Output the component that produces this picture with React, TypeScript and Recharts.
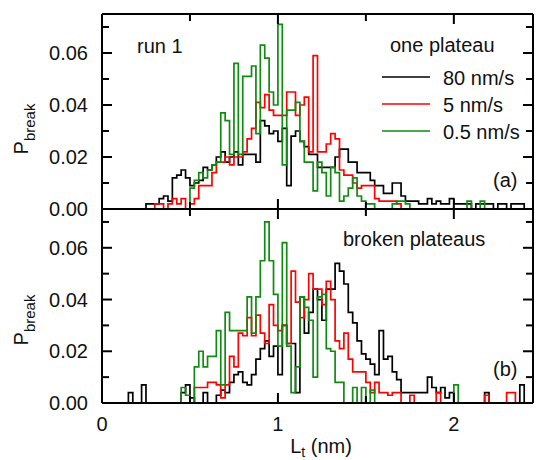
import React from 'react';
import { LineChart, Line, XAxis, YAxis } from 'recharts';

// Histogram bins: left edges start at 0.10 nm, width 0.025 nm (94 bins up to 2.45 nm)
const BIN_START = 0.1;
const BIN_WIDTH = 0.025;

// Panel (a) "one plateau"
const top80 = [
  0, 0, 0, 0, 0, 0, 0.002, 0.002, 0.002, 0.004,
  0.005, 0.003, 0.012, 0.013, 0.015, 0.012, 0.009, 0.010, 0.011, 0.016,
  0.015, 0.017, 0.020, 0.022, 0.018, 0.020, 0.022, 0.017, 0.021, 0.021,
  0.021, 0.018, 0.034, 0.032, 0.029, 0.030, 0.026, 0.031, 0.009, 0.028,
  0.030, 0.026, 0.024, 0.021, 0.021, 0.016, 0.016, 0.016, 0.016, 0.020,
  0.023, 0.023, 0.018, 0.018, 0.014, 0.014, 0.014, 0.011, 0.009, 0.009,
  0.006, 0.006, 0.010, 0.010, 0.005, 0.003, 0.003, 0.003, 0.002, 0.002,
  0.004, 0.002, 0.003, 0.002, 0.002, 0.004, 0.002, 0.002, 0.002, 0.002,
  0.000, 0.002, 0.002, 0.002, 0.002, 0.000, 0.002, 0.002, 0.000, 0.002,
  0.002, 0.002, 0.000, 0.000,
];
const top5 = [
  0, 0, 0, 0, 0, 0, 0, 0, 0.002, 0.002,
  0, 0.002, 0.004, 0.002, 0.004, 0, 0.002, 0.004, 0.009, 0.009,
  0.009, 0.014, 0.018, 0.018, 0.020, 0.017, 0.020, 0.020, 0.022, 0.027,
  0.031, 0.041, 0.039, 0.044, 0.038, 0.036, 0.036, 0.036, 0.045, 0.045,
  0.036, 0.040, 0.043, 0.022, 0.059, 0.022, 0.022, 0.025, 0.029, 0.027,
  0.015, 0.013, 0.013, 0.010, 0.008, 0.009, 0.009, 0.009, 0.004, 0.003,
  0.003, 0.003, 0.003, 0.002, 0, 0, 0, 0, 0, 0,
  0, 0, 0, 0, 0, 0, 0, 0, 0, 0,
  0, 0, 0, 0, 0, 0, 0, 0, 0, 0,
  0, 0, 0, 0,
];
const top05 = [
  0, 0, 0, 0, 0, 0, 0, 0, 0, 0,
  0, 0, 0, 0, 0, 0, 0.008, 0.011, 0.014, 0.012,
  0.015, 0.017, 0.018, 0.037, 0.034, 0.021, 0.056, 0.021, 0.051, 0.051,
  0.055, 0.029, 0.063, 0.058, 0.045, 0.040, 0.071, 0.017, 0.038, 0.038,
  0.041, 0.026, 0.018, 0.018, 0.007, 0.018, 0.014, 0.005, 0.016, 0.014,
  0.003, 0.005, 0.008, 0.012, 0.005, 0.003, 0.002, 0.002, 0, 0,
  0, 0, 0.002, 0.003, 0.003, 0.002, 0, 0, 0, 0,
  0, 0, 0, 0, 0, 0, 0, 0, 0, 0.003,
  0, 0, 0.003, 0, 0, 0, 0, 0, 0, 0,
  0, 0, 0, 0,
];

// Panel (b) "broken plateaus"
const bot80 = [
  0, 0, 0.004, 0, 0, 0.007, 0, 0, 0, 0,
  0, 0, 0, 0, 0.004, 0.007, 0.002, 0, 0, 0.004,
  0, 0, 0.003, 0.005, 0.004, 0.008, 0.011, 0.012, 0.008, 0.007,
  0.011, 0.017, 0.021, 0.024, 0.018, 0.022, 0.011, 0.030, 0.023, 0.023,
  0.004, 0.041, 0.027, 0.035, 0.044, 0.040, 0.032, 0.044, 0.044, 0.054,
  0.051, 0.046, 0.035, 0.031, 0.024, 0.019, 0.017, 0.015, 0.011, 0.028,
  0.017, 0.018, 0.012, 0.009, 0.004, 0.004, 0.004, 0.004, 0.004, 0.004,
  0.010, 0.006, 0.004, 0.006, 0.002, 0.004, 0, 0, 0, 0,
  0, 0, 0, 0.004, 0, 0, 0, 0, 0, 0,
  0, 0.007, 0, 0,
];
const bot5 = [
  0, 0, 0, 0, 0, 0, 0, 0, 0, 0,
  0, 0, 0, 0, 0, 0, 0, 0.006, 0.006, 0.006,
  0.008, 0.008, 0.007, 0.002, 0.007, 0.018, 0.014, 0.027, 0.026, 0.033,
  0.026, 0.034, 0.027, 0.023, 0.038, 0.030, 0.028, 0.030, 0.023, 0.051,
  0.039, 0.033, 0.040, 0.050, 0.044, 0.044, 0.038, 0.047, 0.040, 0.024,
  0.021, 0.027, 0.017, 0.012, 0.012, 0.012, 0.008, 0.004, 0.008, 0.004,
  0.004, 0.003, 0.004, 0.004, 0, 0, 0.003, 0, 0, 0,
  0, 0, 0.004, 0, 0, 0, 0, 0, 0, 0,
  0, 0, 0, 0.003, 0, 0, 0, 0, 0.004, 0.004,
  0, 0, 0, 0,
];
const bot05 = [
  0, 0, 0, 0, 0, 0, 0, 0, 0, 0,
  0, 0, 0, 0, 0.006, 0.003, 0, 0.014, 0.020, 0.014,
  0.018, 0.018, 0.028, 0.007, 0.035, 0.028, 0.028, 0.028, 0.028, 0.041,
  0.027, 0.041, 0.055, 0.070, 0.055, 0.042, 0.022, 0.062, 0.022, 0.004,
  0.014, 0.041, 0.037, 0.032, 0.010, 0.041, 0.042, 0.021, 0.020, 0.008,
  0.008, 0, 0, 0.006, 0, 0.006, 0, 0.005, 0, 0,
  0, 0, 0, 0, 0, 0, 0, 0, 0, 0,
  0, 0, 0, 0, 0, 0, 0.007, 0, 0, 0,
  0, 0, 0, 0, 0, 0, 0, 0, 0, 0,
  0, 0, 0, 0,
];

const seriesNames = ['80 nm/s', '5 nm/s', '0.5 nm/s'];
const seriesColors = ['#000000', '#ff0000', '#118a11'];
const X_TICKS = [0, 0.5, 1, 1.5, 2];
const Y_TICKS = [0, 0.01, 0.02, 0.03, 0.04, 0.05, 0.06, 0.07];
const X_DOMAIN: [number, number] = [0, 2.45];
const Y_DOMAIN: [number, number] = [0, 0.075];

const FONT = "'Liberation Sans', Arial, Helvetica, sans-serif";

function buildRows(s80: number[], s5: number[], s05: number[]) {
  const rows = s80.map((_, i) => ({
    L: +(BIN_START + i * BIN_WIDTH).toFixed(4),
    v80: s80[i],
    v5: s5[i],
    v05: s05[i],
  }));
  const n = s80.length;
  rows.push({ L: +(BIN_START + n * BIN_WIDTH).toFixed(4), v80: s80[n - 1], v5: s5[n - 1], v05: s05[n - 1] });
  return rows;
}

const topRows = buildRows(top80, top5, top05);
const botRows = buildRows(bot80, bot5, bot05);

const isMajorX = (v: number) => Math.abs(v - Math.round(v)) < 1e-6;
const isMajorY = (v: number) => Math.round(v * 100) % 2 === 0;

const makeXTick = (side: 'top' | 'bottom', labels: boolean) => (props: any) => {
  const { x, y, payload } = props;
  const v = payload.value;
  const major = isMajorX(v);
  const len = major ? 10 : 7;
  const dir = side === 'bottom' ? -1 : 1;
  return (
    <g>
      <line x1={x} y1={y} x2={x} y2={y + dir * len} stroke="#000" strokeWidth={2} />
      {labels && major ? (
        <text x={x} y={y + 28} textAnchor="middle" fontSize={20} fontFamily={FONT} fill="#111">
          {String(v)}
        </text>
      ) : null}
    </g>
  );
};

const makeYTick = (side: 'left' | 'right') => (props: any) => {
  const { x, y, payload } = props;
  const v = payload.value;
  const major = isMajorY(v);
  const len = major ? 10 : 7;
  const dir = side === 'left' ? 1 : -1;
  return (
    <g>
      <line x1={x} y1={y} x2={x + dir * len} y2={y} stroke="#000" strokeWidth={2} />
      {side === 'left' && major ? (
        <text x={x - 14} y={y + 7} textAnchor="end" fontSize={20} fontFamily={FONT} fill="#111">
          {v.toFixed(2)}
        </text>
      ) : null}
    </g>
  );
};

const axisLine = { stroke: '#000', strokeWidth: 2 };

function Panel({ rows, marginTop, marginBottom, xLabels }: { rows: any[]; marginTop: number; marginBottom: number; xLabels: boolean }) {
  return (
    <LineChart width={542} height={460} data={rows} margin={{ top: marginTop, right: 8, bottom: marginBottom, left: 101 }}>
      <XAxis xAxisId="b" dataKey="L" type="number" domain={X_DOMAIN} ticks={X_TICKS} allowDataOverflow orientation="bottom"
        height={1} tickSize={0} tickMargin={0} tickLine={false} axisLine={axisLine} interval={0} tick={makeXTick('bottom', xLabels)} />
      <XAxis xAxisId="t" dataKey="L" type="number" domain={X_DOMAIN} ticks={X_TICKS} allowDataOverflow orientation="top"
        height={1} tickSize={0} tickMargin={0} tickLine={false} axisLine={axisLine} interval={0} tick={makeXTick('top', false)} />
      <YAxis yAxisId="l" type="number" domain={Y_DOMAIN} ticks={Y_TICKS} allowDataOverflow orientation="left"
        width={1} tickSize={0} tickMargin={0} tickLine={false} axisLine={axisLine} interval={0} tick={makeYTick('left')} />
      <YAxis yAxisId="r" type="number" domain={Y_DOMAIN} ticks={Y_TICKS} allowDataOverflow orientation="right"
        width={1} tickSize={0} tickMargin={0} tickLine={false} axisLine={axisLine} interval={0} tick={makeYTick('right')} />
      <Line xAxisId="t" yAxisId="r" type="stepAfter" dataKey="v80" stroke="none" dot={false} isAnimationActive={false} />
      <Line xAxisId="b" yAxisId="l" type="stepAfter" dataKey="v80" name={seriesNames[0]} stroke={seriesColors[0]} strokeWidth={1.7} dot={false} isAnimationActive={false} />
      <Line xAxisId="b" yAxisId="l" type="stepAfter" dataKey="v5" name={seriesNames[1]} stroke={seriesColors[1]} strokeWidth={1.7} dot={false} isAnimationActive={false} />
      <Line xAxisId="b" yAxisId="l" type="stepAfter" dataKey="v05" name={seriesNames[2]} stroke={seriesColors[2]} strokeWidth={1.7} dot={false} isAnimationActive={false} />
    </LineChart>
  );
}

function PBreak({ bx, cy }: { bx: number; cy: number }) {
  return (
    <text transform={`translate(${bx},${cy}) rotate(-90)`} x={0} y={0} textAnchor="middle" fontFamily={FONT} fill="#111">
      <tspan fontSize={20}>P</tspan>
      <tspan fontSize={15} dy={7}>break</tspan>
    </text>
  );
}

export default function App() {
  const legendY = [77, 104, 131];
  return (
    <div style={{ position: 'absolute', left: 0, top: 0, width: 542, height: 460, background: '#fff' }}>
      <div style={{ position: 'absolute', left: 0, top: 0 }}>
        <Panel rows={topRows} marginTop={13} marginBottom={250} xLabels={false} />
      </div>
      <div style={{ position: 'absolute', left: 0, top: 0 }}>
        <Panel rows={botRows} marginTop={208} marginBottom={56} xLabels={true} />
      </div>
      <svg width={542} height={460} style={{ position: 'absolute', left: 0, top: 0, pointerEvents: 'none' }}>
        <g fontFamily={FONT} fontSize={20} fill="#111">
          <text x={137} y={53}>run 1</text>
          <text x={390} y={52}>one plateau</text>
          {seriesNames.map((n, i) => (
            <g key={n}>
              <line x1={382} x2={430} y1={legendY[i]} y2={legendY[i]} stroke={seriesColors[i]} strokeWidth={1.7} />
              <text x={443} y={legendY[i] + 8}>{n}</text>
            </g>
          ))}
          <text x={493} y={187}>(a)</text>
          <text x={343} y={246}>broken plateaus</text>
          <text x={493} y={376}>(b)</text>
          <text x={321} y={453} textAnchor="middle">
            <tspan>L</tspan>
            <tspan fontSize={14} dy={4}>t</tspan>
            <tspan dy={-4}> (nm)</tspan>
          </text>
        </g>
        <PBreak bx={28} cy={129} />
        <PBreak bx={28} cy={320} />
      </svg>
    </div>
  );
}
